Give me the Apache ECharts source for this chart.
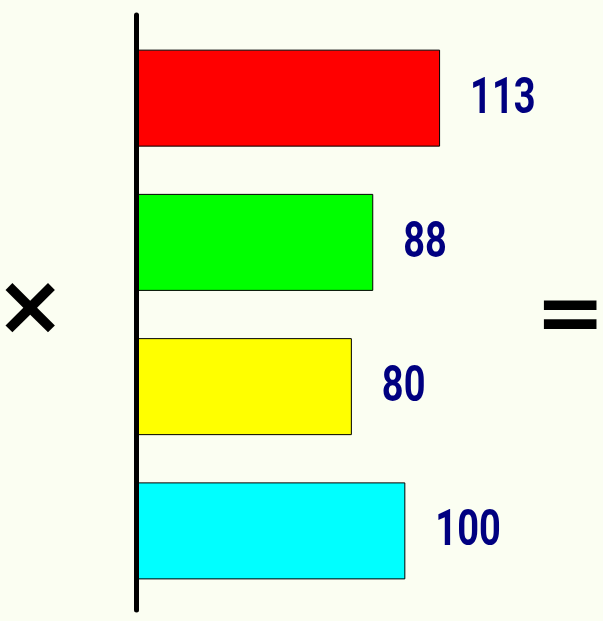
<!DOCTYPE html>
<html>
<head>
<meta charset="utf-8">
<script src="https://cdn.jsdelivr.net/npm/echarts@6/dist/echarts.min.js"></script>
<style>
  html, body { margin: 0; padding: 0; background: #fbfef2; }
  #chart { width: 603px; height: 621px; }
</style>
</head>
<body>
<div id="chart"></div>
<script>
const categories = ['A', 'B', 'C', 'D'];
const values = [113, 88, 80, 100];
const barColors = ['#ff0000', '#00ff00', '#ffff00', '#00ffff'];

const chart = echarts.init(document.getElementById('chart'));

const gridLeft = 138;

chart.setOption({
  backgroundColor: '#fbfef2',
  animation: false,
  grid: { left: gridLeft, right: 64, top: 26, bottom: 18 },
  xAxis: {
    type: 'value',
    min: 0,
    max: 150,
    show: false
  },
  yAxis: {
    type: 'category',
    data: categories,
    inverse: true,
    axisLine: { show: false },
    axisTick: { show: false },
    axisLabel: { show: false },
    splitLine: { show: false }
  },
  series: [
    {
      type: 'bar',
      barWidth: 97,
      data: values.map((v, i) => ({
        value: v,
        itemStyle: { color: barColors[i], borderColor: '#000', borderWidth: 1 }
      }))
    },
    {
      // value labels, squeezed horizontally to look like a condensed face
      type: 'custom',
      data: values.map((v, i) => [v, i]),
      renderItem: (params, api) => {
        const p = api.coord([api.value(0), api.value(1)]);
        return {
          type: 'text',
          x: p[0] + 30,
          y: p[1] + 2,
          scaleX: 0.76,
          style: {
            text: String(api.value(0)),
            font: 'bold 50px Roboto',
            fill: '#000080',
            align: 'left',
            verticalAlign: 'middle'
          }
        };
      }
    }
  ],
  graphic: [
    {
      // the black axis line (longer than the bars' band)
      type: 'line',
      shape: { x1: gridLeft - 1.5, y1: 15, x2: gridLeft - 1.5, y2: 610 },
      style: { stroke: '#000', lineWidth: 5, lineCap: 'round' },
      z: 10
    },
    {
      type: 'text',
      left: -5,
      top: 270,
      style: { text: '×', font: 'bold 84px "DejaVu Sans"', fill: '#000' }
    },
    {
      type: 'text',
      left: 535,
      top: 277,
      style: { text: '=', font: 'bold 84px "DejaVu Sans"', fill: '#000' }
    }
  ]
});
</script>
</body>
</html>
